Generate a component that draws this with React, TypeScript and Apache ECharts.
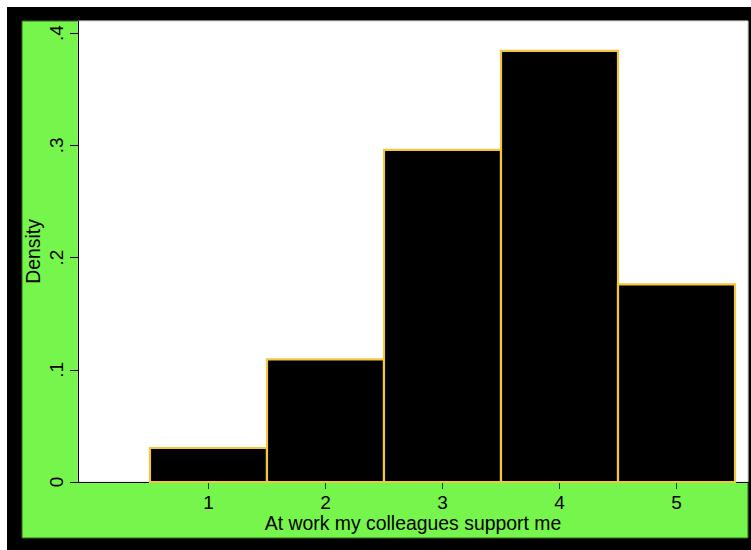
import React, { useEffect, useRef } from "react";
import * as echarts from "echarts";

const categories = [1, 2, 3, 4, 5];
const densities = [0.0303, 0.1093, 0.2958, 0.384, 0.1761];
const xTicks = [1, 2, 3, 4, 5];
const yTicks = [0, 0.1, 0.2, 0.3, 0.4];
const xTitle = "At work my colleagues support me";
const yTitle = "Density";

const FONT = "'Liberation Sans', Arial, sans-serif";

export default function App() {
  const ref = useRef<HTMLDivElement>(null);
  useEffect(() => {
    if (!ref.current) return;
    const chart = echarts.init(ref.current, null, { renderer: "svg" });
    const data = categories.map((c, i) => [c, densities[i]]);
    chart.setOption({
      animation: false,
      backgroundColor: "#ffffff",
      graphic: [
        { type: "rect", z: -10, shape: { x: 7, y: 7, width: 744, height: 543 }, style: { fill: "#000000" }, silent: true },
        { type: "rect", z: -9, shape: { x: 22, y: 21, width: 726, height: 517 }, style: { fill: "#76F64C", stroke: "#2f6b1e", lineWidth: 1 }, silent: true },
      ],
      grid: {
        left: 78, top: 21, right: 3, bottom: 68,
        show: true, backgroundColor: "#ffffff", borderWidth: 1, borderColor: "#d0d0d0",
        containLabel: false,
      },
      xAxis: {
        type: "value",
        min: -0.115,
        max: 5.611,
        name: xTitle,
        nameLocation: "middle",
        nameGap: 31,
        nameMoveOverlap: false,
        nameTextStyle: { fontFamily: FONT, fontSize: 19.4, color: "#000" },
        splitLine: { show: false },
        axisLine: { show: true, onZero: false, lineStyle: { color: "#000", width: 1 } },
        axisTick: { show: true, customValues: xTicks, length: 7, lineStyle: { color: "#24401a", width: 1 } },
        axisLabel: { customValues: xTicks, margin: 11, fontFamily: FONT, fontSize: 19, color: "#000" },
      },
      yAxis: {
        type: "value",
        min: 0,
        max: 0.4107,
        name: yTitle,
        nameLocation: "middle",
        nameRotate: 90,
        nameGap: 36,
        nameMoveOverlap: false,
        nameTextStyle: { fontFamily: FONT, fontSize: 19.4, color: "#000" },
        splitLine: { show: false },
        axisLine: { show: true, onZero: false, lineStyle: { color: "#000", width: 1 } },
        axisTick: { show: true, customValues: yTicks, length: 8, lineStyle: { color: "#000", width: 1 } },
        axisLabel: {
          customValues: yTicks,
          rotate: 90,
          margin: 12,
          fontFamily: FONT,
          fontSize: 19,
          color: "#000",
          formatter: (v: number) => (v === 0 ? "0" : String(Math.round(v * 10) / 10).replace(/^0/, "")),
        },
      },
      series: [
        {
          type: "custom",
          data,
          renderItem: (params: any, api: any) => {
            const x = api.value(0);
            const y = api.value(1);
            const p0 = api.coord([x - 0.5, y]);
            const p1 = api.coord([x + 0.5, 0]);
            return {
              type: "rect",
              shape: { x: p0[0], y: p0[1], width: p1[0] - p0[0], height: p1[1] - p0[1] },
              style: { fill: "#000000", stroke: "#F3C640", lineWidth: 2.2 },
            };
          },
          encode: { x: 0, y: 1 },
        },
      ],
    });
    return () => chart.dispose();
  }, []);
  return (
    <div
      ref={ref}
      style={{ position: "absolute", left: 0, top: 0, width: 751, height: 550 }}
    />
  );
}
